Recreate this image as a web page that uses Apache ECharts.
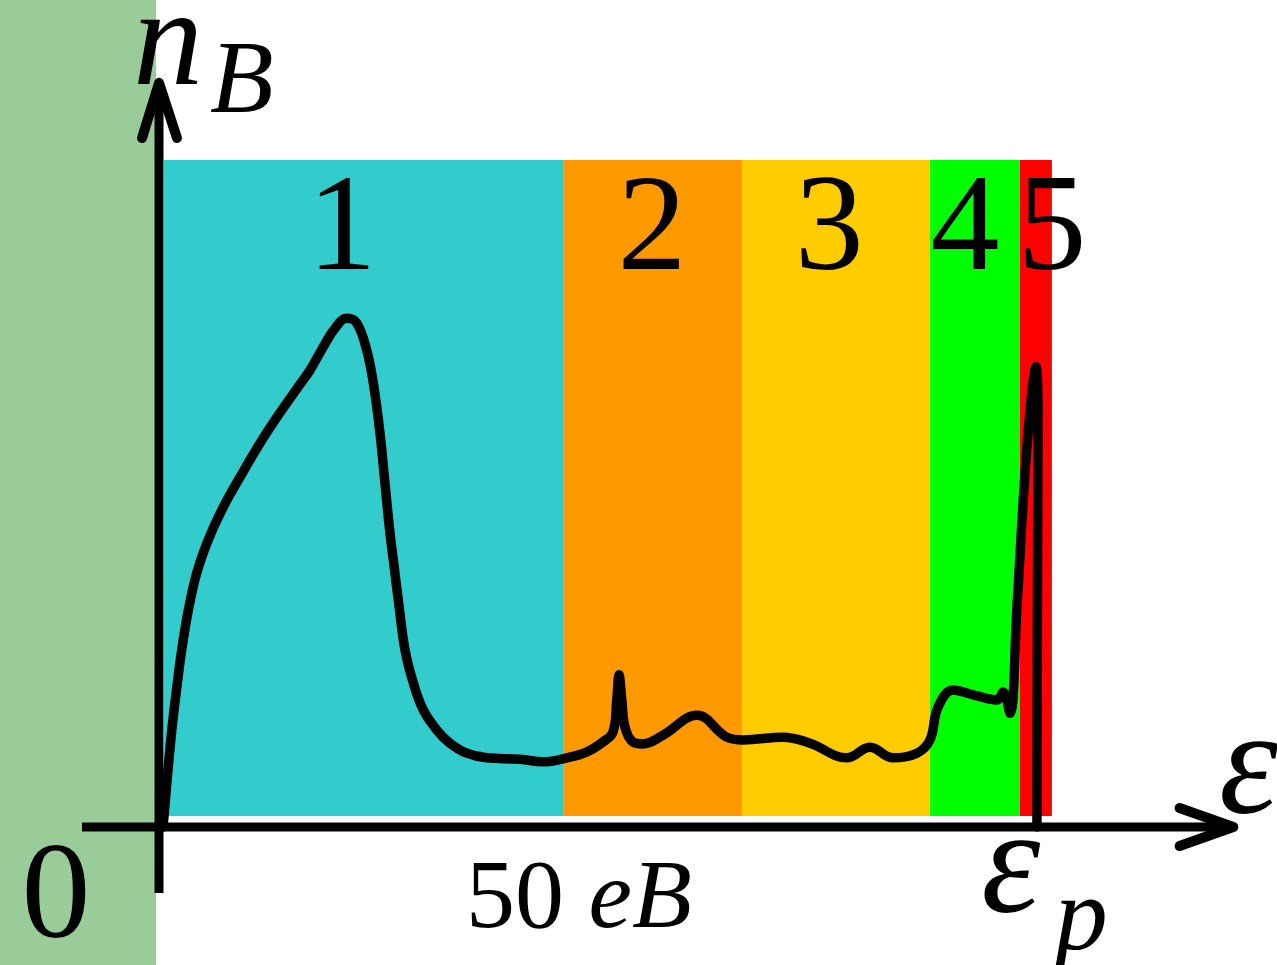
<!DOCTYPE html>
<html>
<head>
<meta charset="utf-8">
<script src="https://cdn.jsdelivr.net/npm/echarts@6/dist/echarts.min.js"></script>
<style>html,body{margin:0;padding:0;background:#fff}#c{width:1277px;height:965px}</style>
</head>
<body>
<div id="c"></div>
<script>
// Axis extents (energy in eB, density in arbitrary units)
const X_MIN = -18.93, X_MAX = 133.1;
const Y_MIN = -20.75, Y_MAX = 124.36;

// Spectrum n_B(ε)
const curveX = [0.48, 1.1, 1.6, 2.1, 2.70, 3.49, 4.49, 5.87, 7.65, 9.64, 12.02, 14.40, 16.58, 17.98, 19.56, 20.95, 22.35, 23.54, 24.73, 25.51, 26.31, 26.9, 27.5, 28.0, 28.49, 29.29, 30.27, 31.46, 33.06, 34.64, 36.63, 39.01, 42.98, 45.71, 48.6, 50.95, 52.86, 54.05, 54.5, 54.76, 55.1, 55.48, 56.4, 57.6, 60.0, 64.05, 67.62, 69.52, 74.29, 77.5, 81.9, 84.64, 87.38, 90.24, 91.79, 92.74, 94.52, 97.14, 99.76, 100.48, 101.31, 102.14, 103.1, 103.93, 104.4, 104.64, 104.58, 104.52];
const curveY = [0, 9.0, 15.5, 20.8, 26.6, 32.6, 38.2, 43.2, 48.1, 52.6, 57.7, 62.3, 66.2, 68.7, 72.2, 75.0, 76.5, 75.8, 71.7, 66.8, 59.2, 51.7, 44.2, 39.1, 34.1, 26.6, 21.7, 17.6, 14.6, 12.6, 11.1, 10.4, 10.2, 9.8, 10.4, 11.3, 12.8, 14.3, 19.1, 22.9, 19.1, 15.0, 12.8, 12.5, 13.8, 16.8, 13.5, 13.1, 13.5, 12.6, 10.4, 12.0, 10.4, 11.1, 13.1, 18.0, 20.6, 19.8, 19.1, 20.3, 17.1, 33.1, 53.2, 65.7, 69.2, 62.9, 34.1, 0];

// Regions 1..5
const bandNames = ['1', '2', '3', '4', '5'];
const bandStart = [0.6, 48.1, 69.4, 91.8, 102.5];
const bandEnd = [48.1, 69.4, 91.8, 102.5, 106.3];
const bandColors = ['#33CCCC', '#FF9900', '#FFCC00', '#00FF00', '#FF0000'];
const bandBottom = 1.65, bandTop = 100.3;
const bandLabelX = [21.8, 58.7, 79.8, 95.95, 106.3];
const bandLabelY = 89.3;
// left region (below zero)
const leftRegionEnd = -0.36;
const leftColor = '#99CC99';

// Axis arrows
const xAxisLine = [[-9.17, 0], [126.5, 0]];
const xArrow = [[121.5, 2.86], [127.9, 0], [121.5, -2.86]];
const yAxisLine = [[0, -9.92], [0, 110.5]];
const yArrow = [[-2.02, 103.6], [0, 111.9], [2.14, 103.6]];

// Text labels
const texts = [
  {t: 'n', x: 1.07, y: 117.3, size: 140, italic: true},
  {t: 'B', x: 9.85, y: 111.6, size: 104, italic: true},
  {t: '0', x: -12.26, y: -11.1, size: 138, italic: false},
  {t: 'ε', x: 129.7, y: 8.0, size: 150, italic: true},
  {t: 'ε', x: 101.4, y: -6.8, size: 150, italic: true},
  {t: 'p', x: 109.8, y: -14.2, size: 106, italic: true}
];
const fiftyLabel = {x: 50, y: -11.1, size: 98};

const chart = echarts.init(document.getElementById('c'), null, {renderer: 'canvas'});

const bandData = bandStart.map((s, i) => [s, bandEnd[i], bandBottom, bandTop, i]);

const option = {
  animation: false,
  backgroundColor: '#fff',
  grid: {left: 0, right: 0, top: 0, bottom: 0, containLabel: false},
  xAxis: {type: 'value', min: X_MIN, max: X_MAX, show: false},
  yAxis: {type: 'value', min: Y_MIN, max: Y_MAX, show: false},
  series: [
    {
      type: 'custom', z: 1, silent: true,
      data: [[X_MIN, leftRegionEnd, Y_MIN, Y_MAX]],
      renderItem: (params, api) => {
        const p0 = api.coord([api.value(0), api.value(3)]);
        const p1 = api.coord([api.value(1), api.value(2)]);
        return {type: 'rect', shape: {x: p0[0], y: p0[1], width: p1[0] - p0[0], height: p1[1] - p0[1]}, style: {fill: leftColor}};
      }
    },
    {
      type: 'custom', z: 2, silent: true,
      data: bandData,
      renderItem: (params, api) => {
        const p0 = api.coord([api.value(0), api.value(3)]);
        const p1 = api.coord([api.value(1), api.value(2)]);
        return {type: 'rect', shape: {x: p0[0], y: p0[1], width: p1[0] - p0[0], height: p1[1] - p0[1]}, style: {fill: bandColors[api.value(4)]}};
      }
    },
    {
      type: 'line', z: 5, silent: true, symbol: 'none',
      data: xAxisLine, lineStyle: {color: '#000', width: 9, cap: 'butt'}
    },
    {
      type: 'line', z: 5, silent: true, symbol: 'none',
      data: yAxisLine, lineStyle: {color: '#000', width: 9, cap: 'butt'}
    },
    {
      type: 'line', z: 5, silent: true, symbol: 'none',
      data: xArrow, lineStyle: {color: '#000', width: 10, cap: 'round', join: 'round'}
    },
    {
      type: 'line', z: 5, silent: true, symbol: 'none',
      data: yArrow, lineStyle: {color: '#000', width: 10, cap: 'round', join: 'round'}
    },
    {
      type: 'line', z: 6, silent: true, symbol: 'none', smooth: 0.4,
      data: curveX.map((x, i) => [x, curveY[i]]),
      lineStyle: {color: '#000', width: 9.5, cap: 'round', join: 'round'}
    },
    {
      type: 'scatter', z: 7, silent: true, symbolSize: 0,
      itemStyle: {opacity: 1},
      data: bandNames.map((n, i) => ({
        value: [bandLabelX[i], bandLabelY],
        label: {show: true, position: 'inside', formatter: n, fontSize: 138, fontFamily: 'Liberation Serif', color: '#000', opacity: 1}
      })).concat(texts.map(d => ({
        value: [d.x, d.y],
        label: {show: true, position: 'inside', formatter: d.t, fontSize: d.size, fontStyle: d.italic ? 'italic' : 'normal', fontFamily: 'Liberation Serif', color: '#000', opacity: 1}
      }))).concat([{
        value: [fiftyLabel.x, fiftyLabel.y],
        label: {
          show: true, position: 'inside', formatter: '{r|50 }{i|eB}', opacity: 1,
          rich: {
            r: {fontSize: fiftyLabel.size, fontFamily: 'Liberation Serif', color: '#000'},
            i: {fontSize: fiftyLabel.size, fontFamily: 'Liberation Serif', fontStyle: 'italic', color: '#000'}
          }
        }
      }])
    }
  ]
};
chart.setOption(option);
</script>
</body>
</html>
